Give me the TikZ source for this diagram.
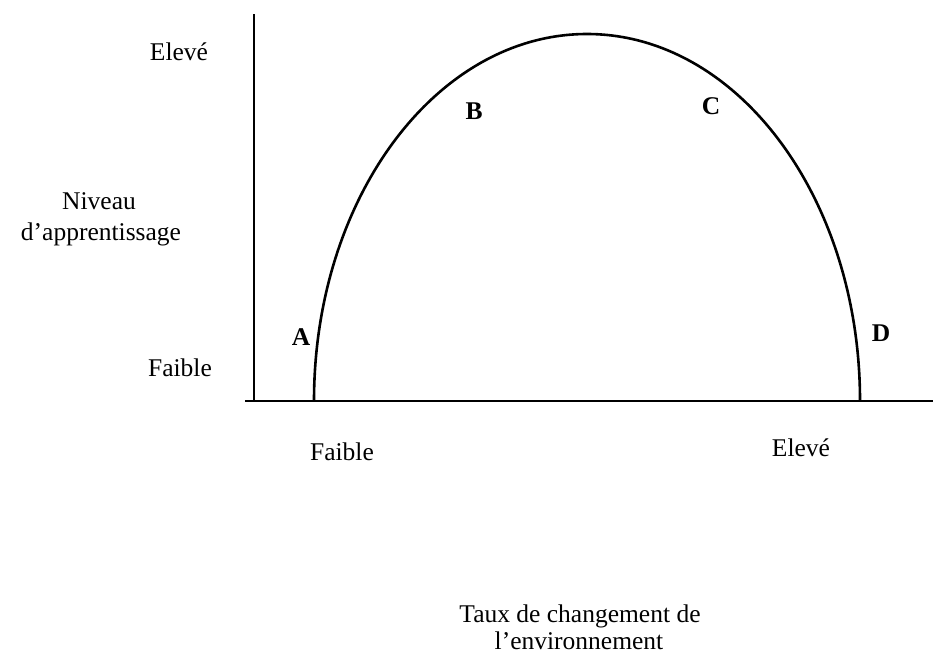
\documentclass[tikz,border=0pt]{standalone}
\usepackage{fontspec}
\setmainfont{Liberation Serif}
\begin{document}
\begin{tikzpicture}[x=1pt,y=-1pt,
  lbl/.style={font=\fontsize{25.5}{30}\selectfont, inner sep=0pt, anchor=base},
  pt/.style={font=\fontsize{25.5}{30}\selectfont\bfseries, inner sep=0pt},
  ax/.style={line width=2.8pt},
  crv/.style={line width=2.6pt}]
\useasboundingbox (0,0) rectangle (933,657);
\coordinate (ytop) at (254,14);
\coordinate (origin) at (254,401);
\coordinate (xleft) at (245,401);
\coordinate (xright) at (933,401);
\coordinate (cl) at (314,401);
\draw[ax] (ytop) -- (origin);
\draw[ax] (xleft) -- (xright);
\draw[crv] (cl) arc[start angle=180, end angle=0, x radius=273, y radius=-367];
\node[lbl] (ehi) at (179,60) {Elevé};
\node[lbl] (niv1) at (99,209) {Niveau};
\node[lbl] (niv2) at (101,240) {d’apprentissage};
\node[lbl] (flo) at (180,376) {Faible};
\node[pt] (A) at (301,337) {A};
\node[pt] (B) at (474,111) {B};
\node[pt] (C) at (711,106) {C};
\node[pt] (D) at (881,333) {D};
\node[lbl] (xf) at (342,460) {Faible};
\node[lbl] (xe) at (801,456) {Elevé};
\node[lbl] (taux1) at (580,622) {Taux de changement de};
\node[lbl] (taux2) at (579,649) {l’environnement};
\end{tikzpicture}
\end{document}
